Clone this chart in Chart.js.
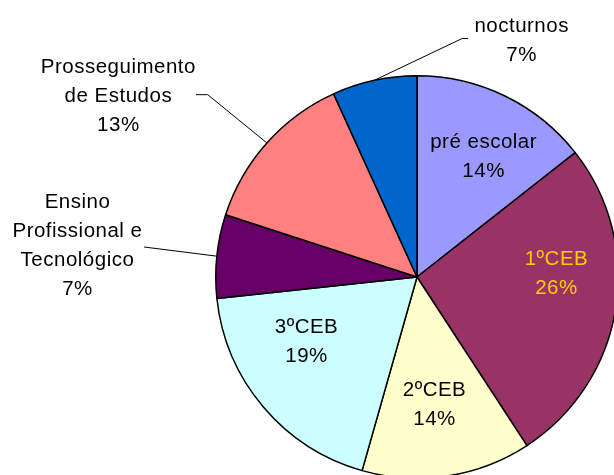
<!DOCTYPE html>
<html>
<head>
<meta charset="utf-8">
<script src="https://cdn.jsdelivr.net/npm/chart.js@4.4.1/dist/chart.umd.min.js"></script>
<style>
  html, body { margin: 0; padding: 0; background: #ffffff; overflow: hidden; width: 614px; height: 475px; }
  #wrap { position: absolute; left: 0; top: 0; width: 620px; height: 480px; }
</style>
</head>
<body>
<div id="wrap"><canvas id="c"></canvas></div>
<script>
// ---- data ----
const categories = ['pré escolar', '1ºCEB', '2ºCEB', '3ºCEB', 'Ensino Profissional e Tecnológico', 'Prosseguimento de Estudos', 'nocturnos'];
const labelLines = [['pré escolar'], ['1ºCEB'], ['2ºCEB'], ['3ºCEB'], ['Ensino', 'Profissional e', 'Tecnológico'], ['Prosseguimento', 'de Estudos'], ['nocturnos']];
const values = [14.4, 26.4, 13.6, 18.9, 6.7, 13.2, 6.8];
const sliceColors = ['#9999FF', '#993366', '#FFFFCC', '#CCFFFF', '#660066', '#FF8080', '#0066CC'];
const labelColors = ['#000000', '#FFCC00', '#000000', '#000000', '#000000', '#000000', '#000000'];

// ---- label layout (in units of pie radius, relative to pie centre) ----
const labelOffsets = [[0.331, -0.605], [0.693, -0.021], [0.087, 0.627], [-0.549, 0.317], [-1.687, -0.160], [-1.484, -0.904], [0.520, -1.180]];
// leader lines: null = none; otherwise list of points after the slice edge point
const leaders = [null, null, null, null, [[-1.356, -0.149]], [[-1.040, -0.906], [-1.098, -0.906]], [[0.224, -1.185], [0.254, -1.185]]];

const total = values.reduce((a, b) => a + b, 0);

const labelPlugin = {
  id: 'pieLabels',
  afterDatasetsDraw(chart) {
    const ctx = chart.ctx;
    const meta = chart.getDatasetMeta(0);
    ctx.save();
    meta.data.forEach((arc, i) => {
      const cx = arc.x, cy = arc.y, r = arc.outerRadius;
      if (leaders[i]) {
        const mid = (arc.startAngle + arc.endAngle) / 2;
        ctx.beginPath();
        ctx.moveTo(cx + Math.cos(mid) * r, cy + Math.sin(mid) * r);
        leaders[i].forEach(p => ctx.lineTo(cx + p[0] * r, cy + p[1] * r));
        ctx.strokeStyle = '#000000';
        ctx.lineWidth = 1;
        ctx.stroke();
      }
      const pct = Math.round(values[i] / total * 100) + '%';
      const lines = labelLines[i].concat([pct]);
      const lh = 29;
      const ax = cx + labelOffsets[i][0] * r;
      const ay = cy + labelOffsets[i][1] * r;
      ctx.font = '20.5px "Liberation Sans", Arial, sans-serif';
      if ('letterSpacing' in ctx) ctx.letterSpacing = '0.5px';
      ctx.fillStyle = labelColors[i];
      ctx.textAlign = 'center';
      ctx.textBaseline = 'alphabetic';
      const y0 = ay - (lines.length - 1) / 2 * lh + 7;
      lines.forEach((t, k) => ctx.fillText(t, ax, y0 + k * lh));
    });
    ctx.restore();
  }
};

new Chart(document.getElementById('c'), {
  type: 'pie',
  data: {
    labels: categories,
    datasets: [{
      data: values,
      backgroundColor: sliceColors,
      borderColor: '#000000',
      borderWidth: 1.5
    }]
  },
  options: {
    responsive: true,
    maintainAspectRatio: false,
    animation: false,
    layout: { padding: { left: 215, top: 75, right: 1, bottom: 1 } },
    plugins: {
      legend: { display: false },
      tooltip: { enabled: false }
    }
  },
  plugins: [labelPlugin]
});
</script>
</body>
</html>
